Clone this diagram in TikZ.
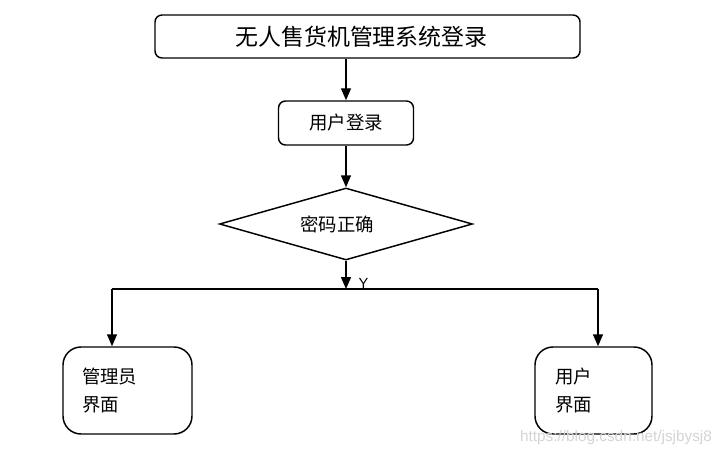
\documentclass[tikz,border=0pt]{standalone}
\usepackage{fontspec}
\setmainfont{Liberation Sans}
\newfontfamily\cjk{Noto Sans CJK SC}
\usetikzlibrary{positioning,shapes.geometric,arrows.meta}
\newlength\px
\setlength\px{0.75pt}
\definecolor{markgrey}{HTML}{D4D4D4}

\begin{document}
\begin{tikzpicture}[
  x=0.75pt, y=-0.75pt,
  every node/.style={inner sep=0pt},
  line width=1.1pt,
  box/.style={draw, rounded corners=7\px, align=center, font=\cjk\fontsize{13.8}{21}\selectfont},
  pane/.style={draw, rounded corners=18\px, align=left, minimum height=87\px,
    font=\cjk\fontsize{13.8}{21}\selectfont},
  check/.style={draw, diamond, aspect=3.5, minimum width=253\px, minimum height=72\px,
    font=\cjk\fontsize{13.8}{21}\selectfont},
  flow/.style={-{Triangle[width=7.5pt,length=9pt]}}
]
\useasboundingbox (0,0) rectangle (724,456);

% Top of the flow: title, login, password check
\node[box, minimum width=425\px, minimum height=43\px, font=\cjk\fontsize{17.2}{22}\selectfont]
  (title) at (367.5,36.5) {\hspace*{-12\px}无人售货机管理系统登录};
\node[box, minimum width=135\px, minimum height=44\px] (login) at (346,123) {用户登录};
\node[check] (pwd) at (346,224) {\hspace*{-18\px}密码正确};

% Branch line under the check
\coordinate (split) at (346,289);
\coordinate (lft) at (112,289);
\coordinate (rgt) at (598,289);

% The two interfaces
\node[pane, inner xsep=19\px, text width=91\px] (admin) at (127.5,390.5) {管理员\\界面};
\node[pane, inner xsep=20\px, text width=77\px] (user) at (593.5,390.5) {用户\\界面};

\draw[flow] (title.south -| login) -- (login);
\draw[flow] (login) -- (pwd);
\draw[flow] (pwd) -- (split) node[pos=0.8, right=12\px, font=\fontsize{11}{12}\selectfont] {Y};
\draw (lft) -- (rgt);
\draw[flow] (lft) -- (lft |- admin.north);
\draw[flow] (rgt) -- (rgt |- user.north);

% watermark
\node[text=markgrey, font=\fontsize{11.5}{13}\selectfont] (mark) at (616,438) {https://blog.csdn.net/jsjbysj8};

\end{tikzpicture}
\end{document}
